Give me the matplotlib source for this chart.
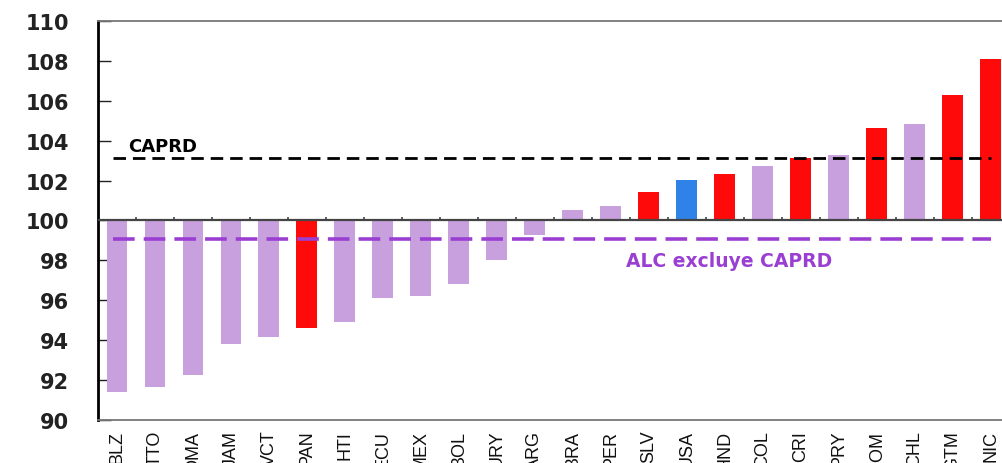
import matplotlib

matplotlib.use("Agg")
import matplotlib.pyplot as plt
import numpy as np

# data
countries = ["BLZ", "TTO", "DMA", "JAM", "VCT", "PAN", "HTI", "ECU", "MEX", "BOL", "URY", "ARG",
             "BRA", "PER", "SLV", "USA", "HND", "COL", "CRI", "PRY", "DOM", "CHL", "GTM", "NIC"]
values = [91.4, 91.65, 92.25, 93.8, 94.15, 94.6, 94.9, 96.1, 96.2, 96.8, 98.0, 99.25,
          100.5, 100.75, 101.45, 102.05, 102.35, 102.75, 103.15, 103.3, 104.65, 104.85, 106.3, 108.1]
groups = ["alc", "alc", "alc", "alc", "alc", "caprd", "alc", "alc", "alc", "alc", "alc", "alc",
          "alc", "alc", "caprd", "usa", "caprd", "alc", "caprd", "alc", "caprd", "alc", "caprd", "caprd"]
caprd_avg = 103.12
alc_avg = 99.05
yticks = list(range(90, 111, 2))

palette = {"alc": "#c8a0de", "caprd": "#ff0a0a", "usa": "#2f82e8"}
purple = "#9b3fd2"

fig = plt.figure(figsize=(10.03, 4.64), dpi=100)
# the source image is cropped on the right, so the axes run past the figure edge
ax = fig.add_axes([0.0977, 0.0927, 0.909, 0.860])

x = np.arange(len(countries))
heights = np.array(values) - 100
ax.bar(x, heights, bottom=100, width=0.55, color=[palette[g] for g in groups], zorder=2)

# baseline at 100 with small category-boundary ticks
ax.axhline(100, color="#444444", linewidth=1.6, zorder=3)
ax.vlines(x[:-1] + 0.5, 100, 100.18, color="#444444", linewidth=1.2, zorder=3)

# reference averages
ax.hlines(caprd_avg, -0.1, x[-1], colors="black", linestyles=(0, (4.5, 2.5)), linewidth=2, zorder=4)
ax.hlines(alc_avg, -0.1, x[-1], colors=purple, linestyles=(0, (6, 2.5)), linewidth=2.6, zorder=4)
ax.text(0.3, 103.72, "CAPRD", fontsize=13, fontweight="bold", color="black",
        va="center", ha="left", family="DejaVu Sans")
ax.text(13.4, 97.97, "ALC excluye CAPRD", fontsize=13.5, fontweight="bold", color=purple,
        va="center", ha="left", family="DejaVu Sans")

ax.set_xlim(-0.5, len(countries) - 0.5)
ax.set_ylim(90, 110)
ax.set_yticks(yticks)
ax.set_yticklabels([str(t) for t in yticks], fontsize=15, fontweight="bold", color="#1a1a2a")
ax.tick_params(axis="y", direction="in", length=9, width=1, pad=21, colors="#222222")
ax.set_xticks(x)
ax.set_xticklabels(countries, rotation=90, fontsize=13, family="Liberation Sans", color="#111111")
ax.tick_params(axis="x", length=0, pad=7)

ax.spines["left"].set_color("black")
ax.spines["left"].set_linewidth(2)
for side in ["top", "bottom"]:
    ax.spines[side].set_color("#777777")
    ax.spines[side].set_linewidth(1.3)
ax.spines["right"].set_visible(False)

fig.savefig("out.png", dpi=100)
plt.close(fig)
